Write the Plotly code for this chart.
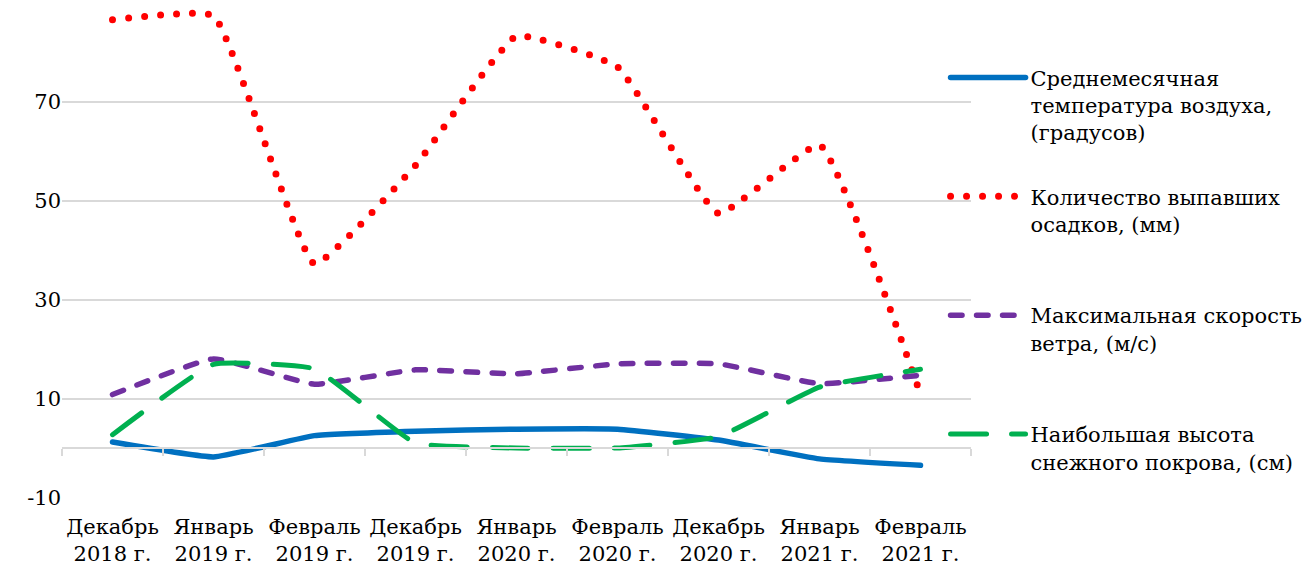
import plotly.graph_objects as go

# Monthly winter observations, three seasons
months = ["Декабрь<br>2018 г.", "Январь<br>2019 г.", "Февраль<br>2019 г.",
          "Декабрь<br>2019 г.", "Январь<br>2020 г.", "Февраль<br>2020 г.",
          "Декабрь<br>2020 г.", "Январь<br>2021 г.", "Февраль<br>2021 г."]

temperature = [1.3, -1.7, 2.6, 3.5, 3.9, 3.9, 1.7, -2.1, -3.4]
precipitation = [86.6, 87.4, 37.3, 57.2, 83.3, 77.1, 47.5, 61.3, 11.0]
wind_speed = [10.9, 18.1, 13.0, 15.9, 15.1, 17.1, 17.1, 13.1, 14.8]
snow_depth = [2.8, 17.0, 16.1, 1.1, 0.1, 0.1, 2.4, 12.4, 16.0]

series_names = [
    "Среднемесячная<br>температура воздуха,<br>(градусов)",
    "Количество выпавших<br>осадков, (мм)<br>\u00a0",
    "Максимальная скорость<br>ветра, (м/с)<br>\u00a0",
    "Наибольшая высота<br>снежного покрова, (см)",
]

y_ticks = [-10, 10, 30, 50, 70]
y_tick_text = ["-10", "10", "30", "50", "70"]
y_range = [-10, 90.6]

FONT = "DejaVu Serif"
SIZE = 21
GRID = "#D9D9D9"

fig = go.Figure()

styles = [
    dict(color="#0070C0", width=5.5, dash="solid"),
    dict(color="#FF0000", width=7, dash="0px,16px"),
    dict(color="#7030A0", width=5.5, dash="11.5px,14.5px"),
    dict(color="#00B050", width=5, dash="36px,25px"),
]

for i, (name, values, st) in enumerate(zip(series_names,
                                           [temperature, precipitation, wind_speed, snow_depth],
                                           styles)):
    fig.add_trace(go.Scatter(
        x=months, y=values, name=name, mode="lines",
        line=dict(color=st["color"], width=st["width"], dash=st["dash"],
                  shape="spline", smoothing=0.35),
        legendgroup=f"g{i}", hoverinfo="skip",
    ))

# Empty trace that carries the category axis drawn along y = 0
fig.add_trace(go.Scatter(x=months, y=[None] * len(months), xaxis="x2",
                         showlegend=False, hoverinfo="skip", mode="lines"))

zero_pos = (0 - y_range[0]) / (y_range[1] - y_range[0])

fig.update_layout(
    width=1309, height=572,
    margin=dict(l=62, r=338, t=0, b=74),
    paper_bgcolor="white", plot_bgcolor="white",
    font=dict(family=FONT, size=SIZE, color="black"),
    showlegend=True,
    legend=dict(x=0.972, xanchor="left", y=0.885, yanchor="top",
                font=dict(family=FONT, size=SIZE, color="black"),
                valign="top", itemwidth=75, tracegroupgap=34,
                bgcolor="rgba(0,0,0,0)"),
    xaxis=dict(type="category", categoryarray=months, range=[-0.5, len(months) - 0.5],
               showgrid=False, showline=False, ticks="", zeroline=False, tickangle=0,
               tickfont=dict(family=FONT, size=SIZE, color="black"), ticklabelstandoff=14),
    xaxis2=dict(type="category", categoryarray=months, range=[-0.5, len(months) - 0.5],
                overlaying="x", anchor="free", position=zero_pos,
                showline=True, linecolor=GRID, linewidth=2,
                ticks="outside", tickson="boundaries", ticklen=7, tickwidth=2, tickcolor=GRID,
                showticklabels=False, showgrid=False, zeroline=False),
    yaxis=dict(range=y_range, tickvals=y_ticks, ticktext=y_tick_text,
               showgrid=True, gridcolor=GRID, gridwidth=2,
               zeroline=False, showline=False, ticks="",
               tickfont=dict(family=FONT, size=SIZE, color="black")),
)

round_caps = ("document.querySelectorAll('path.js-line').forEach(function(p){"
              "p.style.strokeLinecap='round';p.style.strokeLinejoin='round';});")

fig.write_html("out.html", post_script=round_caps)
